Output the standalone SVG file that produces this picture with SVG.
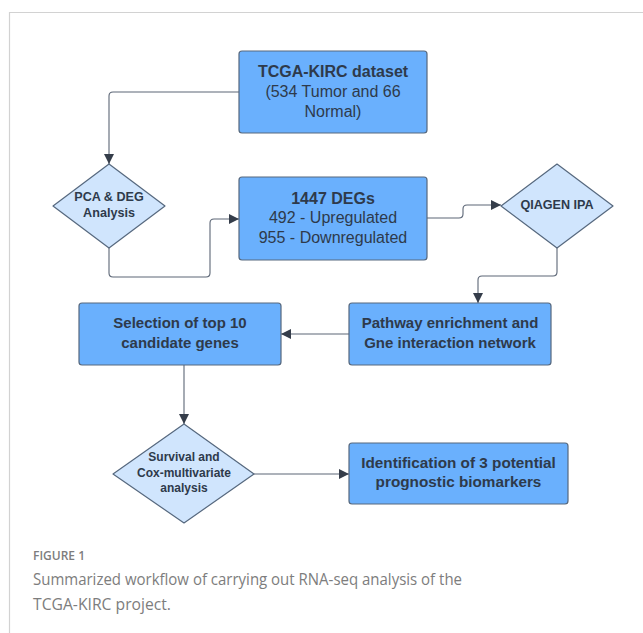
<svg xmlns="http://www.w3.org/2000/svg" width="643" height="633" viewBox="0 0 643 633">
<style>
.box{fill:#6ab0fd;stroke:#56687e;stroke-width:1.2}
.dia{fill:#d0e5fd;stroke:#56687e;stroke-width:1.2}
.t{font-family:"Liberation Sans",Arial,sans-serif;fill:#2e3a4b;text-anchor:middle}
.b{font-weight:bold}
.con{fill:none;stroke:#5c6676;stroke-width:1.1}
.cap{font-family:"Open Sans","Noto Sans",sans-serif;fill:#7d7d7d}
</style>
<defs>
<marker id="ah" viewBox="0 0 10 10" refX="10" refY="5" markerWidth="10" markerHeight="10" markerUnits="userSpaceOnUse" orient="auto">
<path d="M0,0 L10,5 L0,10 z" fill="#353d4a"/>
</marker>
</defs>
<rect width="643" height="633" fill="#ffffff"/>
<path d="M9.5,633 V12.5 H643" fill="none" stroke="#d2d2d2" stroke-width="1.2"/>

<g id="connectors">
<path class="con" d="M239,92 H113 Q109,92 109,96 V164" marker-end="url(#ah)"/>
<path class="con" d="M109,248 V273 Q109,277 113,277 H206 Q210,277 210,273 V223 Q210,219 214,219 H239" marker-end="url(#ah)"/>
<path class="con" d="M427,218 H459 Q463,218 463,214 V209 Q463,205 467,205 H501" marker-end="url(#ah)"/>
<path class="con" d="M557,248 V272 Q557,276 553,276 H482 Q478,276 478,280 V303" marker-end="url(#ah)"/>
<path class="con" d="M349,334 H281" marker-end="url(#ah)"/>
<path class="con" d="M184,365 V424" marker-end="url(#ah)"/>
<path class="con" d="M254,474 H349" marker-end="url(#ah)"/>
</g>

<g id="tcga">
<rect class="box" x="239" y="51" width="188" height="82" rx="3"/>
<text class="t b" x="333" y="77" font-size="16">TCGA-KIRC dataset</text>
<text class="t" x="333" y="97" font-size="16">(534 Tumor and 66</text>
<text class="t" x="333" y="116.5" font-size="16">Normal)</text>
</g>

<g id="pca">
<polygon class="dia" points="109,164 165,206 109,248 53,206" stroke-linejoin="round"/>
<text class="t b" x="109" y="201" font-size="12.6">PCA &amp; DEG</text>
<text class="t b" x="109" y="216.5" font-size="12.6">Analysis</text>
</g>

<g id="degs">
<rect class="box" x="239" y="177" width="188" height="83" rx="3"/>
<text class="t b" x="333" y="203.5" font-size="16">1447 DEGs</text>
<text class="t" x="333" y="222.5" font-size="16">492 - Upregulated</text>
<text class="t" x="333" y="242.5" font-size="16">955 - Downregulated</text>
</g>

<g id="qiagen">
<polygon class="dia" points="557,164 613,206 557,248 501,206" stroke-linejoin="round"/>
<text class="t b" x="557" y="208.5" font-size="12.6">QIAGEN IPA</text>
</g>

<g id="pathway">
<rect class="box" x="349" y="303" width="202" height="62" rx="3"/>
<text class="t b" x="450" y="328" font-size="15">Pathway enrichment and</text>
<text class="t b" x="450" y="347.5" font-size="15">Gne interaction network</text>
</g>

<g id="selection">
<rect class="box" x="79" y="303" width="202" height="62" rx="3"/>
<text class="t b" x="180" y="328" font-size="15">Selection of top 10</text>
<text class="t b" x="180" y="347.5" font-size="15">candidate genes</text>
</g>

<g id="survival">
<polygon class="dia" points="184,424 254,474 184,523 113,474" stroke-linejoin="round"/>
<text class="t b" x="184" y="461" font-size="12">Survival and</text>
<text class="t b" x="184" y="476.5" font-size="12">Cox-multivariate</text>
<text class="t b" x="184" y="491.5" font-size="12">analysis</text>
</g>

<g id="identification">
<rect class="box" x="349" y="443" width="219" height="61" rx="3"/>
<text class="t b" x="458.5" y="467.5" font-size="15.3">Identification of 3 potential</text>
<text class="t b" x="458.5" y="486.5" font-size="15.3">prognostic biomarkers</text>
</g>

<text class="cap" x="33" y="560" font-size="12.5" font-weight="600" fill="#6e6e6e" textLength="52" lengthAdjust="spacingAndGlyphs">FIGURE 1</text>
<text class="cap" x="33" y="585" font-size="17" textLength="429" lengthAdjust="spacingAndGlyphs">Summarized workflow of carrying out RNA-seq analysis of the</text>
<text class="cap" x="33" y="610" font-size="17" textLength="138" lengthAdjust="spacingAndGlyphs">TCGA-KIRC project.</text>
</svg>
